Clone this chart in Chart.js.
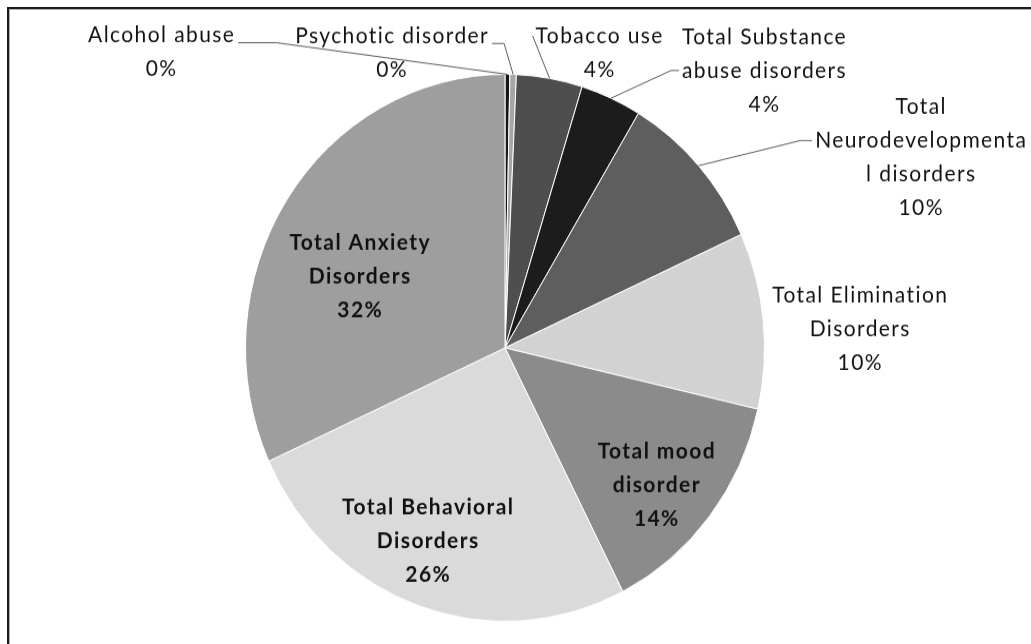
<!DOCTYPE html>
<html>
<head>
<meta charset="utf-8">
<script src="https://cdn.jsdelivr.net/npm/chart.js@4.4.1/dist/chart.umd.min.js"></script>
<style>
  html, body { margin: 0; padding: 0; background: #fff; }
  body { width: 1031px; height: 644px; overflow: hidden; position: relative; }
  #wrap { position: absolute; left: 0; top: 0; width: 1031px; height: 611px;
          transform: scaleY(1.054); transform-origin: 0 0; }
  #frame { position: absolute; left: 7px; top: 7px; width: 1040px; height: 660px;
           border-left: 2px solid #1c1c1c; border-top: 2px solid #1c1c1c;
           box-shadow: inset 1px 1px 0 #b0b0b0; pointer-events: none; }
</style>
</head>
<body>
<div id="wrap"><canvas id="c"></canvas></div>
<div id="frame"></div>
<script>
// ---- data ----
const categories = [
  'Alcohol abuse', 'Psychotic disorder', 'Tobacco use',
  'Total Substance abuse disorders', 'Total Neurodevelopmental disorders',
  'Total Elimination Disorders', 'Total mood disorder',
  'Total Behavioral Disorders', 'Total Anxiety Disorders'
];
const values = [0.3, 0.4, 4.1, 3.8, 9.6, 10.4, 13.9, 25.7, 31.8];
const labelLines = [
  ['Alcohol abuse'], ['Psychotic disorder'], ['Tobacco use'],
  ['Total Substance', 'abuse disorders'],
  ['Total', 'Neurodevelopmenta', 'l disorders'],
  ['Total Elimination', 'Disorders'],
  ['Total mood', 'disorder'],
  ['Total Behavioral', 'Disorders'],
  ['Total Anxiety', 'Disorders']
];
const sliceColors = ['#151515', '#a6a6a6', '#4e4e4e', '#1c1c1c', '#5e5e5e',
                     '#d2d2d2', '#8b8b8b', '#dadada', '#9e9e9e'];

// ---- label layout (in units of the pie radius, relative to its centre) ----
const labelAnchors = [
  [-1.323, -1.081], [-0.435, -1.078], [0.365, -1.079], [1.0, -1.014],
  [1.604, -0.696], [1.369, -0.070], [0.585, 0.503], [-0.296, 0.707], [-0.558, -0.261]
];
const labelBold = [false, false, false, false, false, false, true, true, true];
// leader: [lineIndex, side, stub]
const leaders = [[0, 'right', 38], [0, 'right', 12], [0, 'left', 0], [1, 'left', 8],
                 [1, 'left', 12], null, null, null, null];

const labelPlugin = {
  id: 'sliceLabels',
  afterDatasetsDraw(chart) {
    const ctx = chart.ctx;
    const meta = chart.getDatasetMeta(0);
    const a0 = meta.data[0];
    const cx = a0.x, cy = a0.y, R = a0.outerRadius;
    const fs = 21, lh = 32;
    ctx.save();
    ctx.textAlign = 'center';
    ctx.textBaseline = 'middle';
    ctx.letterSpacing = '1.4px';
    meta.data.forEach((arc, i) => {
      const lines = labelLines[i].concat([Math.round(values[i]) + '%']);
      const bx = cx + labelAnchors[i][0] * R;
      const by = cy + labelAnchors[i][1] * R;
      const y0 = by - (lines.length - 1) * lh / 2;
      ctx.font = (labelBold[i] ? 'bold ' : '') + fs + 'px Lato';
      const ld = leaders[i];
      if (ld) {
        const [li, side, stub] = ld;
        const w = ctx.measureText(lines[li]).width;
        const ly = y0 + li * lh + (i < 2 ? 7 : 0);
        const sx = side === 'right' ? bx + w / 2 + 3 : bx - w / 2 - 3;
        const tx = side === 'right' ? sx + stub : sx - stub;
        const mid = (arc.startAngle + arc.endAngle) / 2;
        const px = cx + Math.cos(mid) * R, py = cy + Math.sin(mid) * R;
        ctx.strokeStyle = '#5a5a5a';
        ctx.lineWidth = 1;
        ctx.beginPath();
        ctx.moveTo(sx, ly);
        ctx.lineTo(tx, ly);
        ctx.lineTo(px, py);
        ctx.stroke();
      }
      ctx.fillStyle = '#111';
      lines.forEach((t, k) => ctx.fillText(t, bx, y0 + k * lh));
    });
    ctx.restore();
  }
};

new Chart(document.getElementById('c'), {
  type: 'pie',
  data: {
    labels: categories,
    datasets: [{
      data: values,
      backgroundColor: sliceColors,
      borderColor: '#ffffff',
      borderWidth: 1
    }]
  },
  options: {
    responsive: true,
    maintainAspectRatio: false,
    animation: false,
    layout: { padding: { left: 245, right: 266, top: 70, bottom: 21 } },
    plugins: { legend: { display: false }, tooltip: { enabled: false } }
  },
  plugins: [labelPlugin]
});
</script>
</body>
</html>
